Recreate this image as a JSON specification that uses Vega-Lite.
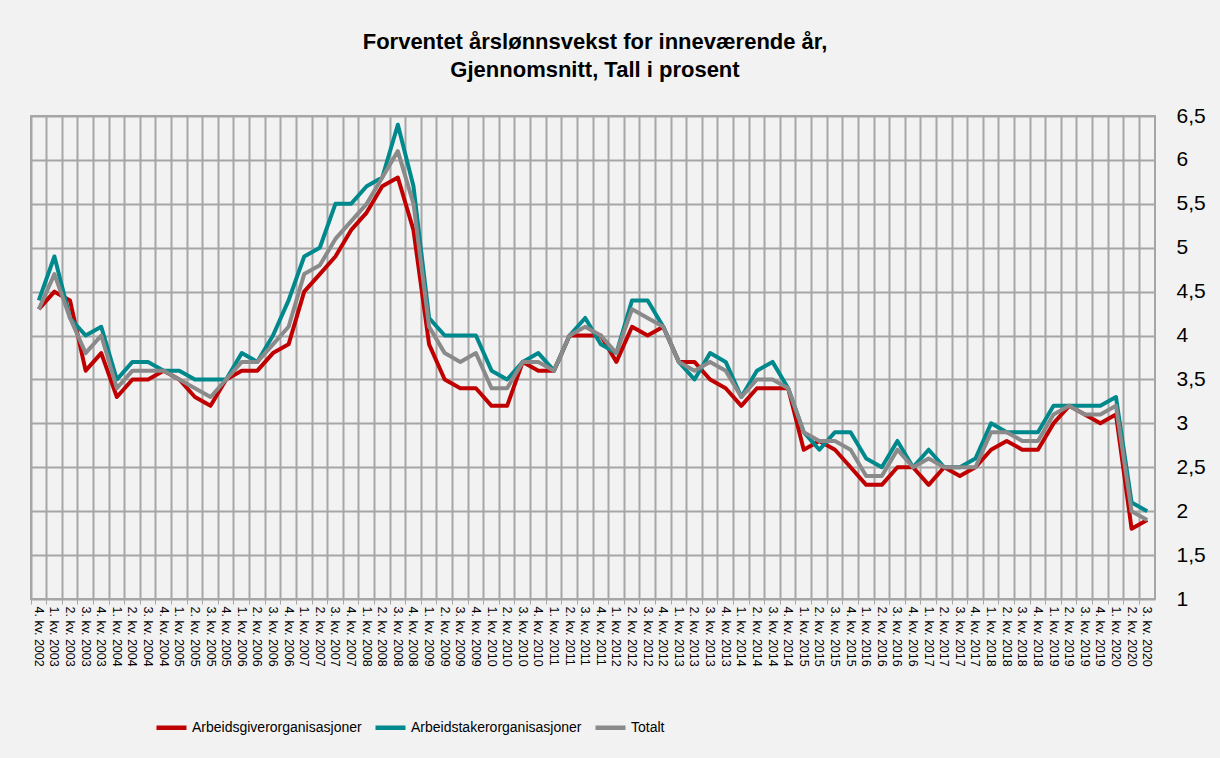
{
  "$schema": "https://vega.github.io/schema/vega-lite/v6.json",
  "autosize": "none",
  "width": 1124,
  "height": 483,
  "padding": {"left": 31, "top": 116, "right": 65, "bottom": 159},
  "background": "#f2f2f2",
  "title": {
    "text": ["Forventet årslønnsvekst for inneværende år,", "Gjennomsnitt, Tall i prosent"],
    "font": "Liberation Sans",
    "fontSize": 22,
    "fontWeight": "bold",
    "color": "#000000",
    "anchor": "middle",
    "lineHeight": 28,
    "offset": 23,
    "dx": 2
  },
  "config": {
    "view": {"stroke": "#a6a6a6", "strokeWidth": 2},
    "font": "Liberation Sans"
  },
  "data": {
    "values": [
      {"q": "4. kv. 2002", "s": "Arbeidsgiverorganisasjoner", "v": 4.3},
      {"q": "1. kv. 2003", "s": "Arbeidsgiverorganisasjoner", "v": 4.5},
      {"q": "2. kv. 2003", "s": "Arbeidsgiverorganisasjoner", "v": 4.4},
      {"q": "3. kv. 2003", "s": "Arbeidsgiverorganisasjoner", "v": 3.6},
      {"q": "4. kv. 2003", "s": "Arbeidsgiverorganisasjoner", "v": 3.8},
      {"q": "1. kv. 2004", "s": "Arbeidsgiverorganisasjoner", "v": 3.3},
      {"q": "2. kv. 2004", "s": "Arbeidsgiverorganisasjoner", "v": 3.5},
      {"q": "3. kv. 2004", "s": "Arbeidsgiverorganisasjoner", "v": 3.5},
      {"q": "4. kv. 2004", "s": "Arbeidsgiverorganisasjoner", "v": 3.6},
      {"q": "1. kv. 2005", "s": "Arbeidsgiverorganisasjoner", "v": 3.5},
      {"q": "2. kv. 2005", "s": "Arbeidsgiverorganisasjoner", "v": 3.3},
      {"q": "3. kv. 2005", "s": "Arbeidsgiverorganisasjoner", "v": 3.2},
      {"q": "4. kv. 2005", "s": "Arbeidsgiverorganisasjoner", "v": 3.5},
      {"q": "1. kv. 2006", "s": "Arbeidsgiverorganisasjoner", "v": 3.6},
      {"q": "2. kv. 2006", "s": "Arbeidsgiverorganisasjoner", "v": 3.6},
      {"q": "3. kv. 2006", "s": "Arbeidsgiverorganisasjoner", "v": 3.8},
      {"q": "4. kv. 2006", "s": "Arbeidsgiverorganisasjoner", "v": 3.9},
      {"q": "1. kv. 2007", "s": "Arbeidsgiverorganisasjoner", "v": 4.5},
      {"q": "2. kv. 2007", "s": "Arbeidsgiverorganisasjoner", "v": 4.7},
      {"q": "3. kv. 2007", "s": "Arbeidsgiverorganisasjoner", "v": 4.9},
      {"q": "4. kv. 2007", "s": "Arbeidsgiverorganisasjoner", "v": 5.2},
      {"q": "1. kv. 2008", "s": "Arbeidsgiverorganisasjoner", "v": 5.4},
      {"q": "2. kv. 2008", "s": "Arbeidsgiverorganisasjoner", "v": 5.7},
      {"q": "3. kv. 2008", "s": "Arbeidsgiverorganisasjoner", "v": 5.8},
      {"q": "4. kv. 2008", "s": "Arbeidsgiverorganisasjoner", "v": 5.2},
      {"q": "1. kv. 2009", "s": "Arbeidsgiverorganisasjoner", "v": 3.9},
      {"q": "2. kv. 2009", "s": "Arbeidsgiverorganisasjoner", "v": 3.5},
      {"q": "3. kv. 2009", "s": "Arbeidsgiverorganisasjoner", "v": 3.4},
      {"q": "4. kv. 2009", "s": "Arbeidsgiverorganisasjoner", "v": 3.4},
      {"q": "1. kv. 2010", "s": "Arbeidsgiverorganisasjoner", "v": 3.2},
      {"q": "2. kv. 2010", "s": "Arbeidsgiverorganisasjoner", "v": 3.2},
      {"q": "3. kv. 2010", "s": "Arbeidsgiverorganisasjoner", "v": 3.7},
      {"q": "4. kv. 2010", "s": "Arbeidsgiverorganisasjoner", "v": 3.6},
      {"q": "1. kv. 2011", "s": "Arbeidsgiverorganisasjoner", "v": 3.6},
      {"q": "2. kv. 2011", "s": "Arbeidsgiverorganisasjoner", "v": 4.0},
      {"q": "3. kv. 2011", "s": "Arbeidsgiverorganisasjoner", "v": 4.0},
      {"q": "4. kv. 2011", "s": "Arbeidsgiverorganisasjoner", "v": 4.0},
      {"q": "1. kv. 2012", "s": "Arbeidsgiverorganisasjoner", "v": 3.7},
      {"q": "2. kv. 2012", "s": "Arbeidsgiverorganisasjoner", "v": 4.1},
      {"q": "3. kv. 2012", "s": "Arbeidsgiverorganisasjoner", "v": 4.0},
      {"q": "4. kv. 2012", "s": "Arbeidsgiverorganisasjoner", "v": 4.1},
      {"q": "1. kv. 2013", "s": "Arbeidsgiverorganisasjoner", "v": 3.7},
      {"q": "2. kv. 2013", "s": "Arbeidsgiverorganisasjoner", "v": 3.7},
      {"q": "3. kv. 2013", "s": "Arbeidsgiverorganisasjoner", "v": 3.5},
      {"q": "4. kv. 2013", "s": "Arbeidsgiverorganisasjoner", "v": 3.4},
      {"q": "1. kv. 2014", "s": "Arbeidsgiverorganisasjoner", "v": 3.2},
      {"q": "2. kv. 2014", "s": "Arbeidsgiverorganisasjoner", "v": 3.4},
      {"q": "3. kv. 2014", "s": "Arbeidsgiverorganisasjoner", "v": 3.4},
      {"q": "4. kv. 2014", "s": "Arbeidsgiverorganisasjoner", "v": 3.4},
      {"q": "1. kv. 2015", "s": "Arbeidsgiverorganisasjoner", "v": 2.7},
      {"q": "2. kv. 2015", "s": "Arbeidsgiverorganisasjoner", "v": 2.8},
      {"q": "3. kv. 2015", "s": "Arbeidsgiverorganisasjoner", "v": 2.7},
      {"q": "4. kv. 2015", "s": "Arbeidsgiverorganisasjoner", "v": 2.5},
      {"q": "1. kv. 2016", "s": "Arbeidsgiverorganisasjoner", "v": 2.3},
      {"q": "2. kv. 2016", "s": "Arbeidsgiverorganisasjoner", "v": 2.3},
      {"q": "3. kv. 2016", "s": "Arbeidsgiverorganisasjoner", "v": 2.5},
      {"q": "4. kv. 2016", "s": "Arbeidsgiverorganisasjoner", "v": 2.5},
      {"q": "1. kv. 2017", "s": "Arbeidsgiverorganisasjoner", "v": 2.3},
      {"q": "2. kv. 2017", "s": "Arbeidsgiverorganisasjoner", "v": 2.5},
      {"q": "3. kv. 2017", "s": "Arbeidsgiverorganisasjoner", "v": 2.4},
      {"q": "4. kv. 2017", "s": "Arbeidsgiverorganisasjoner", "v": 2.5},
      {"q": "1. kv. 2018", "s": "Arbeidsgiverorganisasjoner", "v": 2.7},
      {"q": "2. kv. 2018", "s": "Arbeidsgiverorganisasjoner", "v": 2.8},
      {"q": "3. kv. 2018", "s": "Arbeidsgiverorganisasjoner", "v": 2.7},
      {"q": "4. kv. 2018", "s": "Arbeidsgiverorganisasjoner", "v": 2.7},
      {"q": "1. kv. 2019", "s": "Arbeidsgiverorganisasjoner", "v": 3.0},
      {"q": "2. kv. 2019", "s": "Arbeidsgiverorganisasjoner", "v": 3.2},
      {"q": "3. kv. 2019", "s": "Arbeidsgiverorganisasjoner", "v": 3.1},
      {"q": "4. kv. 2019", "s": "Arbeidsgiverorganisasjoner", "v": 3.0},
      {"q": "1. kv. 2020", "s": "Arbeidsgiverorganisasjoner", "v": 3.1},
      {"q": "2. kv. 2020", "s": "Arbeidsgiverorganisasjoner", "v": 1.8},
      {"q": "3. kv. 2020", "s": "Arbeidsgiverorganisasjoner", "v": 1.9},
      {"q": "4. kv. 2002", "s": "Arbeidstakerorganisasjoner", "v": 4.4},
      {"q": "1. kv. 2003", "s": "Arbeidstakerorganisasjoner", "v": 4.9},
      {"q": "2. kv. 2003", "s": "Arbeidstakerorganisasjoner", "v": 4.2},
      {"q": "3. kv. 2003", "s": "Arbeidstakerorganisasjoner", "v": 4.0},
      {"q": "4. kv. 2003", "s": "Arbeidstakerorganisasjoner", "v": 4.1},
      {"q": "1. kv. 2004", "s": "Arbeidstakerorganisasjoner", "v": 3.5},
      {"q": "2. kv. 2004", "s": "Arbeidstakerorganisasjoner", "v": 3.7},
      {"q": "3. kv. 2004", "s": "Arbeidstakerorganisasjoner", "v": 3.7},
      {"q": "4. kv. 2004", "s": "Arbeidstakerorganisasjoner", "v": 3.6},
      {"q": "1. kv. 2005", "s": "Arbeidstakerorganisasjoner", "v": 3.6},
      {"q": "2. kv. 2005", "s": "Arbeidstakerorganisasjoner", "v": 3.5},
      {"q": "3. kv. 2005", "s": "Arbeidstakerorganisasjoner", "v": 3.5},
      {"q": "4. kv. 2005", "s": "Arbeidstakerorganisasjoner", "v": 3.5},
      {"q": "1. kv. 2006", "s": "Arbeidstakerorganisasjoner", "v": 3.8},
      {"q": "2. kv. 2006", "s": "Arbeidstakerorganisasjoner", "v": 3.7},
      {"q": "3. kv. 2006", "s": "Arbeidstakerorganisasjoner", "v": 4.0},
      {"q": "4. kv. 2006", "s": "Arbeidstakerorganisasjoner", "v": 4.4},
      {"q": "1. kv. 2007", "s": "Arbeidstakerorganisasjoner", "v": 4.9},
      {"q": "2. kv. 2007", "s": "Arbeidstakerorganisasjoner", "v": 5.0},
      {"q": "3. kv. 2007", "s": "Arbeidstakerorganisasjoner", "v": 5.5},
      {"q": "4. kv. 2007", "s": "Arbeidstakerorganisasjoner", "v": 5.5},
      {"q": "1. kv. 2008", "s": "Arbeidstakerorganisasjoner", "v": 5.7},
      {"q": "2. kv. 2008", "s": "Arbeidstakerorganisasjoner", "v": 5.8},
      {"q": "3. kv. 2008", "s": "Arbeidstakerorganisasjoner", "v": 6.4},
      {"q": "4. kv. 2008", "s": "Arbeidstakerorganisasjoner", "v": 5.7},
      {"q": "1. kv. 2009", "s": "Arbeidstakerorganisasjoner", "v": 4.2},
      {"q": "2. kv. 2009", "s": "Arbeidstakerorganisasjoner", "v": 4.0},
      {"q": "3. kv. 2009", "s": "Arbeidstakerorganisasjoner", "v": 4.0},
      {"q": "4. kv. 2009", "s": "Arbeidstakerorganisasjoner", "v": 4.0},
      {"q": "1. kv. 2010", "s": "Arbeidstakerorganisasjoner", "v": 3.6},
      {"q": "2. kv. 2010", "s": "Arbeidstakerorganisasjoner", "v": 3.5},
      {"q": "3. kv. 2010", "s": "Arbeidstakerorganisasjoner", "v": 3.7},
      {"q": "4. kv. 2010", "s": "Arbeidstakerorganisasjoner", "v": 3.8},
      {"q": "1. kv. 2011", "s": "Arbeidstakerorganisasjoner", "v": 3.6},
      {"q": "2. kv. 2011", "s": "Arbeidstakerorganisasjoner", "v": 4.0},
      {"q": "3. kv. 2011", "s": "Arbeidstakerorganisasjoner", "v": 4.2},
      {"q": "4. kv. 2011", "s": "Arbeidstakerorganisasjoner", "v": 3.9},
      {"q": "1. kv. 2012", "s": "Arbeidstakerorganisasjoner", "v": 3.8},
      {"q": "2. kv. 2012", "s": "Arbeidstakerorganisasjoner", "v": 4.4},
      {"q": "3. kv. 2012", "s": "Arbeidstakerorganisasjoner", "v": 4.4},
      {"q": "4. kv. 2012", "s": "Arbeidstakerorganisasjoner", "v": 4.1},
      {"q": "1. kv. 2013", "s": "Arbeidstakerorganisasjoner", "v": 3.7},
      {"q": "2. kv. 2013", "s": "Arbeidstakerorganisasjoner", "v": 3.5},
      {"q": "3. kv. 2013", "s": "Arbeidstakerorganisasjoner", "v": 3.8},
      {"q": "4. kv. 2013", "s": "Arbeidstakerorganisasjoner", "v": 3.7},
      {"q": "1. kv. 2014", "s": "Arbeidstakerorganisasjoner", "v": 3.3},
      {"q": "2. kv. 2014", "s": "Arbeidstakerorganisasjoner", "v": 3.6},
      {"q": "3. kv. 2014", "s": "Arbeidstakerorganisasjoner", "v": 3.7},
      {"q": "4. kv. 2014", "s": "Arbeidstakerorganisasjoner", "v": 3.4},
      {"q": "1. kv. 2015", "s": "Arbeidstakerorganisasjoner", "v": 2.9},
      {"q": "2. kv. 2015", "s": "Arbeidstakerorganisasjoner", "v": 2.7},
      {"q": "3. kv. 2015", "s": "Arbeidstakerorganisasjoner", "v": 2.9},
      {"q": "4. kv. 2015", "s": "Arbeidstakerorganisasjoner", "v": 2.9},
      {"q": "1. kv. 2016", "s": "Arbeidstakerorganisasjoner", "v": 2.6},
      {"q": "2. kv. 2016", "s": "Arbeidstakerorganisasjoner", "v": 2.5},
      {"q": "3. kv. 2016", "s": "Arbeidstakerorganisasjoner", "v": 2.8},
      {"q": "4. kv. 2016", "s": "Arbeidstakerorganisasjoner", "v": 2.5},
      {"q": "1. kv. 2017", "s": "Arbeidstakerorganisasjoner", "v": 2.7},
      {"q": "2. kv. 2017", "s": "Arbeidstakerorganisasjoner", "v": 2.5},
      {"q": "3. kv. 2017", "s": "Arbeidstakerorganisasjoner", "v": 2.5},
      {"q": "4. kv. 2017", "s": "Arbeidstakerorganisasjoner", "v": 2.6},
      {"q": "1. kv. 2018", "s": "Arbeidstakerorganisasjoner", "v": 3.0},
      {"q": "2. kv. 2018", "s": "Arbeidstakerorganisasjoner", "v": 2.9},
      {"q": "3. kv. 2018", "s": "Arbeidstakerorganisasjoner", "v": 2.9},
      {"q": "4. kv. 2018", "s": "Arbeidstakerorganisasjoner", "v": 2.9},
      {"q": "1. kv. 2019", "s": "Arbeidstakerorganisasjoner", "v": 3.2},
      {"q": "2. kv. 2019", "s": "Arbeidstakerorganisasjoner", "v": 3.2},
      {"q": "3. kv. 2019", "s": "Arbeidstakerorganisasjoner", "v": 3.2},
      {"q": "4. kv. 2019", "s": "Arbeidstakerorganisasjoner", "v": 3.2},
      {"q": "1. kv. 2020", "s": "Arbeidstakerorganisasjoner", "v": 3.3},
      {"q": "2. kv. 2020", "s": "Arbeidstakerorganisasjoner", "v": 2.1},
      {"q": "3. kv. 2020", "s": "Arbeidstakerorganisasjoner", "v": 2.0},
      {"q": "4. kv. 2002", "s": "Totalt", "v": 4.3},
      {"q": "1. kv. 2003", "s": "Totalt", "v": 4.7},
      {"q": "2. kv. 2003", "s": "Totalt", "v": 4.2},
      {"q": "3. kv. 2003", "s": "Totalt", "v": 3.8},
      {"q": "4. kv. 2003", "s": "Totalt", "v": 4.0},
      {"q": "1. kv. 2004", "s": "Totalt", "v": 3.4},
      {"q": "2. kv. 2004", "s": "Totalt", "v": 3.6},
      {"q": "3. kv. 2004", "s": "Totalt", "v": 3.6},
      {"q": "4. kv. 2004", "s": "Totalt", "v": 3.6},
      {"q": "1. kv. 2005", "s": "Totalt", "v": 3.5},
      {"q": "2. kv. 2005", "s": "Totalt", "v": 3.4},
      {"q": "3. kv. 2005", "s": "Totalt", "v": 3.3},
      {"q": "4. kv. 2005", "s": "Totalt", "v": 3.5},
      {"q": "1. kv. 2006", "s": "Totalt", "v": 3.7},
      {"q": "2. kv. 2006", "s": "Totalt", "v": 3.7},
      {"q": "3. kv. 2006", "s": "Totalt", "v": 3.9},
      {"q": "4. kv. 2006", "s": "Totalt", "v": 4.1},
      {"q": "1. kv. 2007", "s": "Totalt", "v": 4.7},
      {"q": "2. kv. 2007", "s": "Totalt", "v": 4.8},
      {"q": "3. kv. 2007", "s": "Totalt", "v": 5.1},
      {"q": "4. kv. 2007", "s": "Totalt", "v": 5.3},
      {"q": "1. kv. 2008", "s": "Totalt", "v": 5.5},
      {"q": "2. kv. 2008", "s": "Totalt", "v": 5.8},
      {"q": "3. kv. 2008", "s": "Totalt", "v": 6.1},
      {"q": "4. kv. 2008", "s": "Totalt", "v": 5.5},
      {"q": "1. kv. 2009", "s": "Totalt", "v": 4.1},
      {"q": "2. kv. 2009", "s": "Totalt", "v": 3.8},
      {"q": "3. kv. 2009", "s": "Totalt", "v": 3.7},
      {"q": "4. kv. 2009", "s": "Totalt", "v": 3.8},
      {"q": "1. kv. 2010", "s": "Totalt", "v": 3.4},
      {"q": "2. kv. 2010", "s": "Totalt", "v": 3.4},
      {"q": "3. kv. 2010", "s": "Totalt", "v": 3.7},
      {"q": "4. kv. 2010", "s": "Totalt", "v": 3.7},
      {"q": "1. kv. 2011", "s": "Totalt", "v": 3.6},
      {"q": "2. kv. 2011", "s": "Totalt", "v": 4.0},
      {"q": "3. kv. 2011", "s": "Totalt", "v": 4.1},
      {"q": "4. kv. 2011", "s": "Totalt", "v": 4.0},
      {"q": "1. kv. 2012", "s": "Totalt", "v": 3.8},
      {"q": "2. kv. 2012", "s": "Totalt", "v": 4.3},
      {"q": "3. kv. 2012", "s": "Totalt", "v": 4.2},
      {"q": "4. kv. 2012", "s": "Totalt", "v": 4.1},
      {"q": "1. kv. 2013", "s": "Totalt", "v": 3.7},
      {"q": "2. kv. 2013", "s": "Totalt", "v": 3.6},
      {"q": "3. kv. 2013", "s": "Totalt", "v": 3.7},
      {"q": "4. kv. 2013", "s": "Totalt", "v": 3.6},
      {"q": "1. kv. 2014", "s": "Totalt", "v": 3.3},
      {"q": "2. kv. 2014", "s": "Totalt", "v": 3.5},
      {"q": "3. kv. 2014", "s": "Totalt", "v": 3.5},
      {"q": "4. kv. 2014", "s": "Totalt", "v": 3.4},
      {"q": "1. kv. 2015", "s": "Totalt", "v": 2.9},
      {"q": "2. kv. 2015", "s": "Totalt", "v": 2.8},
      {"q": "3. kv. 2015", "s": "Totalt", "v": 2.8},
      {"q": "4. kv. 2015", "s": "Totalt", "v": 2.7},
      {"q": "1. kv. 2016", "s": "Totalt", "v": 2.4},
      {"q": "2. kv. 2016", "s": "Totalt", "v": 2.4},
      {"q": "3. kv. 2016", "s": "Totalt", "v": 2.7},
      {"q": "4. kv. 2016", "s": "Totalt", "v": 2.5},
      {"q": "1. kv. 2017", "s": "Totalt", "v": 2.6},
      {"q": "2. kv. 2017", "s": "Totalt", "v": 2.5},
      {"q": "3. kv. 2017", "s": "Totalt", "v": 2.5},
      {"q": "4. kv. 2017", "s": "Totalt", "v": 2.5},
      {"q": "1. kv. 2018", "s": "Totalt", "v": 2.9},
      {"q": "2. kv. 2018", "s": "Totalt", "v": 2.9},
      {"q": "3. kv. 2018", "s": "Totalt", "v": 2.8},
      {"q": "4. kv. 2018", "s": "Totalt", "v": 2.8},
      {"q": "1. kv. 2019", "s": "Totalt", "v": 3.1},
      {"q": "2. kv. 2019", "s": "Totalt", "v": 3.2},
      {"q": "3. kv. 2019", "s": "Totalt", "v": 3.1},
      {"q": "4. kv. 2019", "s": "Totalt", "v": 3.1},
      {"q": "1. kv. 2020", "s": "Totalt", "v": 3.2},
      {"q": "2. kv. 2020", "s": "Totalt", "v": 2.0},
      {"q": "3. kv. 2020", "s": "Totalt", "v": 1.9}
    ]
  },
  "mark": {"type": "line", "strokeWidth": 4, "strokeJoin": "round", "strokeCap": "butt"},
  "encoding": {
    "x": {
      "field": "q",
      "type": "ordinal",
      "sort": null,
      "scale": {"type": "band", "paddingInner": 0, "paddingOuter": 0},
      "axis": {
        "title": null,
        "bandPosition": 0,
        "grid": true,
        "gridColor": "#a6a6a6",
        "gridWidth": 2,
        "gridOpacity": 1,
        "domain": false,
        "ticks": true,
        "tickSize": 5,
        "tickColor": "#a6a6a6",
        "tickWidth": 1,
        "labelAngle": 90,
        "labelAlign": "left",
        "labelBaseline": "middle",
        "labelPadding": 2,
        "labelFont": "Liberation Sans",
        "labelFontSize": 12.5,
        "labelColor": "#000000",
        "labelOverlap": false,
        "labelBound": false
      }
    },
    "y": {
      "field": "v",
      "type": "quantitative",
      "scale": {"domain": [1, 6.5], "nice": false, "zero": false},
      "axis": {
        "title": null,
        "orient": "right",
        "values": [1, 1.5, 2, 2.5, 3, 3.5, 4, 4.5, 5, 5.5, 6, 6.5],
        "labelExpr": "replace(format(datum.value, '.1~f'), '.', ',')",
        "grid": true,
        "gridColor": "#a6a6a6",
        "gridWidth": 2,
        "gridOpacity": 1,
        "domain": false,
        "ticks": false,
        "labelPadding": 21,
        "labelFont": "Liberation Sans",
        "labelFontSize": 21,
        "labelColor": "#000000"
      }
    },
    "color": {
      "field": "s",
      "type": "nominal",
      "scale": {
        "domain": ["Arbeidsgiverorganisasjoner", "Arbeidstakerorganisasjoner", "Totalt"],
        "range": ["#c00000", "#00898c", "#8a8a8a"]
      },
      "legend": {
        "title": null,
        "orient": "none",
        "direction": "horizontal",
        "legendX": 123,
        "legendY": 594,
        "symbolType": "stroke",
        "symbolSize": 900,
        "symbolStrokeWidth": 4.5,
        "labelFont": "Liberation Sans",
        "labelFontSize": 14,
        "labelColor": "#000000",
        "labelOffset": 3,
        "columnPadding": 4,
        "labelLimit": 400
      }
    }
  }
}
